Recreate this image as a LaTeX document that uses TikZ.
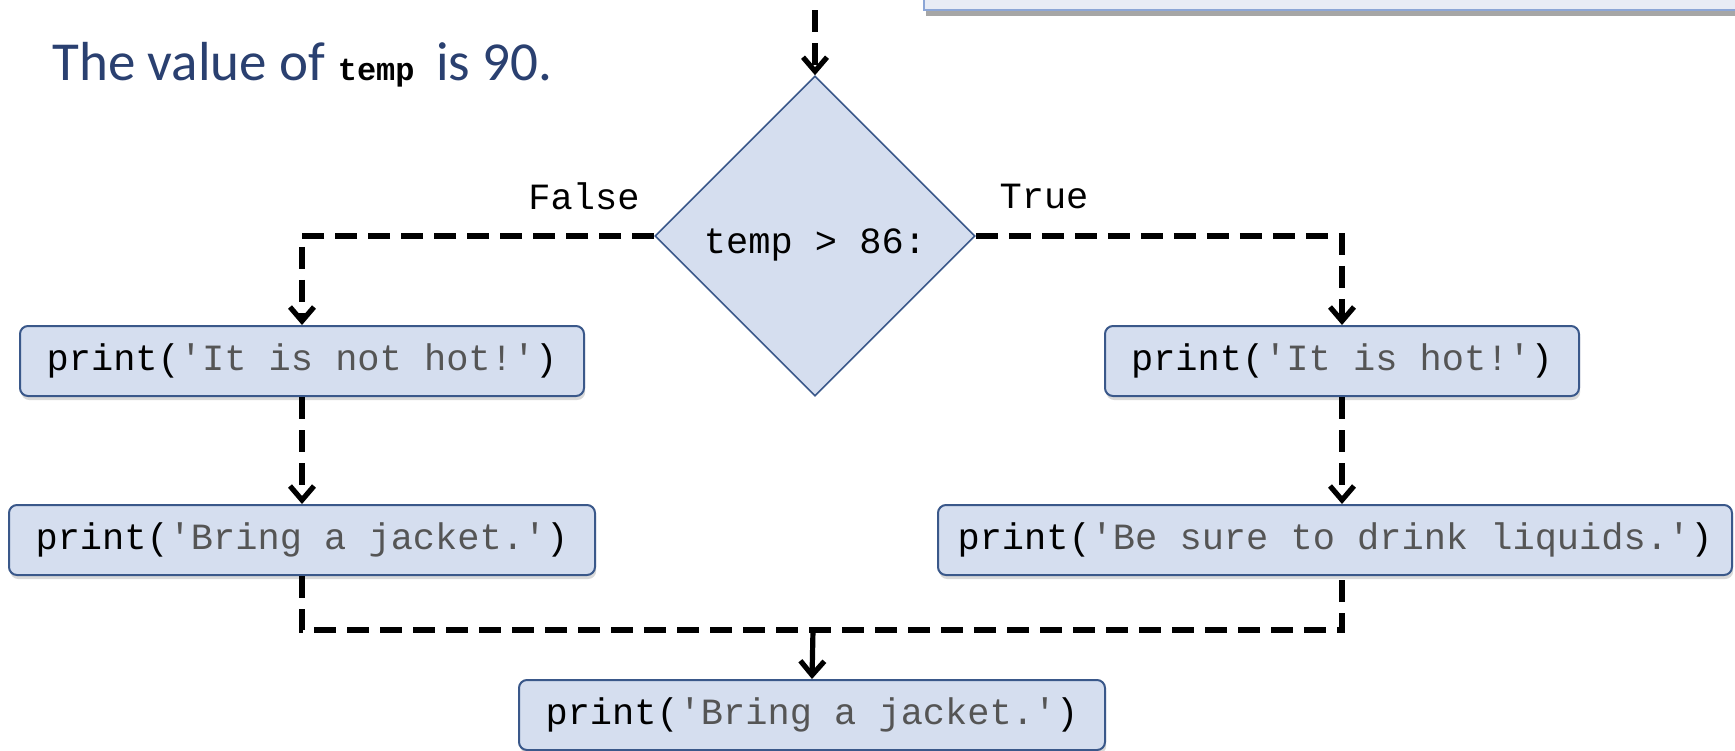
\documentclass[tikz,border=0pt]{standalone}
\usepackage{fontspec}
\setmainfont{Carlito}
\setmonofont{Liberation Mono}
\usetikzlibrary{shapes.geometric,arrows.meta,shadows}

\definecolor{boxfill}{RGB}{213,222,239}
\definecolor{boxline}{RGB}{58,88,138}
\definecolor{strgray}{RGB}{85,85,85}
\definecolor{titleblue}{RGB}{42,64,112}
\definecolor{prevfill}{RGB}{232,236,245}
\definecolor{prevline}{RGB}{140,166,214}

\newcommand{\pyprint}[1]{print(\textcolor{strgray}{'#1'})}

\begin{document}
\begin{tikzpicture}[x=0.5pt,y=-0.5pt,
    code/.style={font=\ttfamily\fontsize{18.5}{22}\selectfont},
    stmt/.style={code,draw=boxline,line width=1pt,fill=boxfill,rounded corners=4pt,
      minimum height=35pt,inner sep=0pt,
      drop shadow={shadow xshift=0.6pt,shadow yshift=-2pt,opacity=0.3}},
    test/.style={code,diamond,draw=boxline,line width=0.8pt,fill=boxfill,
      minimum size=160pt,inner sep=0pt,text height=21pt,text depth=4pt},
    dashline/.style={line width=2.6pt,dash pattern=on 11pt off 5.5pt},
    flow/.style={dashline,-{Straight Barb[length=7pt,width=12pt]}},
    arrow/.style={line width=2.6pt,-{Straight Barb[length=7pt,width=12pt]}}]
  \path[use as bounding box,clip] (0,0) rectangle (1735,750);

  % tail of the statement above
  \node[draw=prevline,line width=1.2pt,fill=prevfill,minimum width=420pt,minimum height=32pt,
    drop shadow={shadow xshift=1pt,shadow yshift=-3pt,opacity=0.7}] (prevStmt) at (1344,-22) {};

  \node[anchor=base west,inner sep=0pt,text=titleblue,font=\fontsize{27.5}{32}\selectfont] (heading)
    at (52,80) {The value of \textcolor{black}{\ttfamily\bfseries\fontsize{16}{18}\selectfont temp}\, is 90.};

  \node[test] (cond) at (815,236) {temp > 86:};
  \node[code] (falseLbl) at (584,196) {False};
  \node[code] (trueLbl) at (1044,196) {True};

  \node[stmt,minimum width=282pt] (notHot) at (302,361) {\pyprint{It is not hot!}};
  \node[stmt,minimum width=293pt] (jacket) at (302,540) {\pyprint{Bring a jacket.}};
  \node[stmt,minimum width=237pt] (hot) at (1342,361) {\pyprint{It is hot!}};
  \node[stmt,minimum width=397pt] (liquids) at (1335,540) {\pyprint{Be sure to drink liquids.}};
  \node[stmt,minimum width=293pt] (after) at (812,715) {\pyprint{Bring a jacket.}};

  \coordinate (entry) at (815,10);
  \coordinate (join) at (813,630);

  \draw[flow] (entry) -- (cond.north);
  \draw[flow] (cond.west) -| (notHot.north);
  \draw[flow] (cond.east) -| (hot.north);
  \draw[flow] (notHot.south) -- (jacket.north);
  \draw[flow] (hot.south) -- (hot.south |- liquids.north);
  \draw[dashline] (jacket.south) |- (join) -| (hot.south |- liquids.south);
  \draw[arrow] (join) -- (after.north);
\end{tikzpicture}
\end{document}
